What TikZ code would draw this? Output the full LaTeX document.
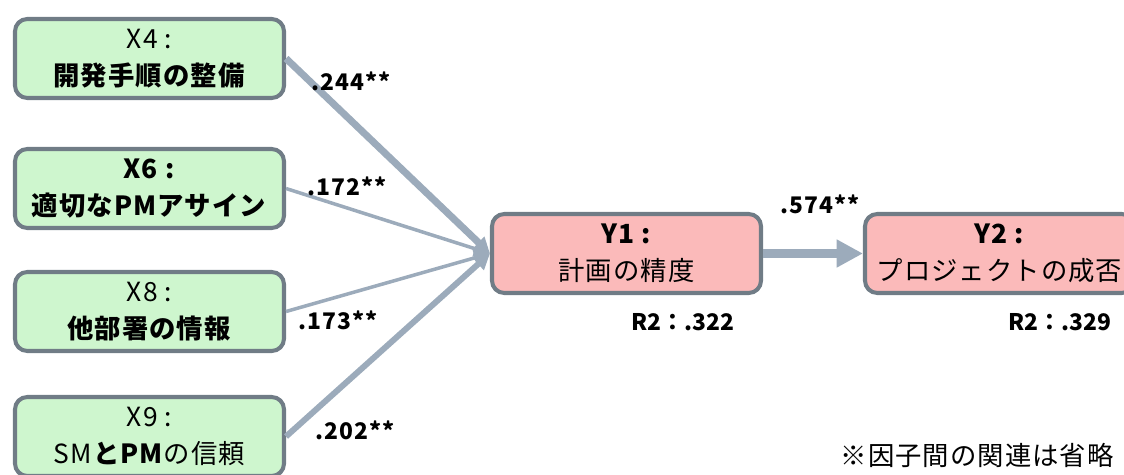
\documentclass[tikz,border=0pt]{standalone}
\usepackage{fontspec}
\setmainfont{Noto Sans CJK JP}
\usetikzlibrary{arrows.meta}
\definecolor{boxline}{RGB}{112,124,134}
\definecolor{effline}{RGB}{156,171,187}
\definecolor{xfill}{RGB}{206,246,206}
\definecolor{yfill}{RGB}{251,186,186}
\begin{document}
\begin{tikzpicture}[
	factor/.style={draw=boxline,line width=2.3pt,rounded corners=7pt,minimum width=5.38cm,minimum height=1.58cm,inner sep=0pt,align=center,font=\fontsize{15}{21}\selectfont\addfontfeatures{LetterSpace=4}},
	xbox/.style={factor,fill=xfill},
	ybox/.style={factor,fill=yfill},
	effect/.style={draw=effline,-{Triangle[length=9pt,width=9pt]}},
	coef/.style={font=\fontsize{13}{15}\selectfont\bfseries\addfontfeatures{LetterSpace=5}},
	rsq/.style={font=\fontsize{13}{15}\selectfont\bfseries},
	]
	\useasboundingbox (0,0) rectangle (22.48,-9.5) ;
	\node[xbox] (X4) at (2.99,-1.17) {X4 :\\\textbf{開発手順の整備}} ;
	\node[xbox] (X6) at (2.99,-3.77) {\textbf{X6 :}\\\textbf{適切なPMアサイン}} ;
	\node[xbox] (X8) at (2.99,-6.23) {X8 :\\\textbf{他部署の情報}} ;
	\node[xbox] (X9) at (2.99,-8.73) {X9 :\\SM\textbf{とPM}の信頼} ;
	\node[ybox] (Y1) at (12.53,-5.07) {\textbf{Y1 :}\\計画の精度} ;
	\node[ybox] (Y2) at (19.99,-5.07) {\textbf{Y2 :}\\プロジェクトの成否} ;
	\draw[effect,line width=4pt] (X4.east)--(Y1.west) ;
	\draw[effect,line width=2pt] (X6.east)--(Y1.west) ;
	\draw[effect,line width=2pt] (X8.east)--(Y1.west) ;
	\draw[effect,line width=3.4pt] (X9.east)--(Y1.west) ;
	\draw[draw=effline,line width=5pt,-{Triangle[length=15pt,width=15pt]}] (Y1.east)--(Y2.west) ;
	\node[coef] (c4) at (7.02,-1.62) {.244**} ;
	\node[coef] (c6) at (6.94,-3.72) {.172**} ;
	\node[coef] (c8) at (6.76,-6.40) {.173**} ;
	\node[coef] (c9) at (7.10,-8.60) {.202**} ;
	\node[coef] (cy) at (16.40,-4.08) {.574**} ;
	\node[rsq] (r1) at (13.66,-6.44) {R2：.322} ;
	\node[rsq] (r2) at (21.20,-6.44) {R2：.329} ;
	\node[anchor=east,font=\fontsize{15}{19}\selectfont\addfontfeatures{LetterSpace=4}] (note) at (22.40,-9.10) {※因子間の関連は省略} ;
\end{tikzpicture}
\end{document}
